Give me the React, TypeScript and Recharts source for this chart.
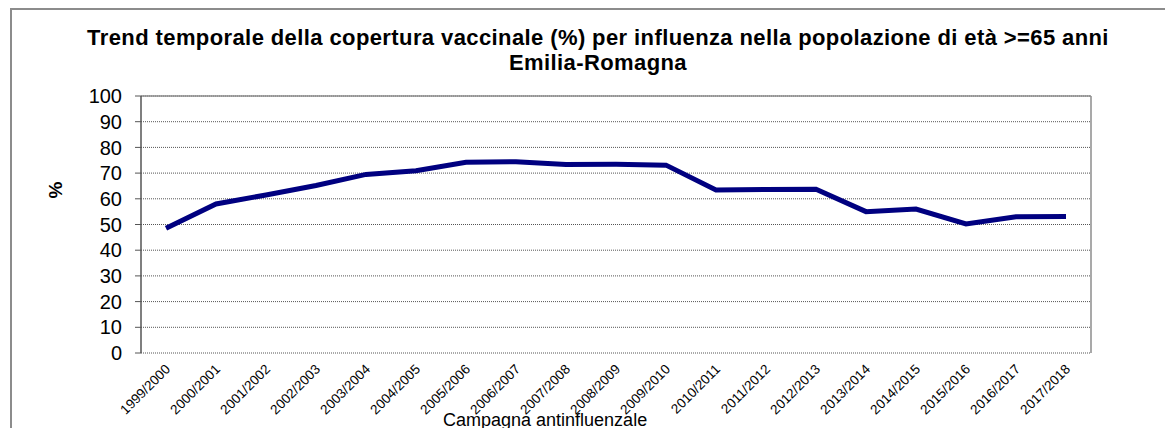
import { CartesianGrid, Line, LineChart, ReferenceLine, XAxis, YAxis } from "recharts"

const campagne = [
  "1999/2000", "2000/2001", "2001/2002", "2002/2003", "2003/2004", "2004/2005",
  "2005/2006", "2006/2007", "2007/2008", "2008/2009", "2009/2010", "2010/2011",
  "2011/2012", "2012/2013", "2013/2014", "2014/2015", "2015/2016", "2016/2017",
  "2017/2018",
]

// copertura vaccinale (%) >=65 anni
const copertura = [
  48.5, 58.0, 61.5, 65.2, 69.5, 70.9, 74.2, 74.4, 73.3, 73.4, 73.1, 63.4,
  63.6, 63.7, 55.0, 56.0, 50.2, 53.0, 53.1,
]

const yTicks = [0, 10, 20, 30, 40, 50, 60, 70, 80, 90, 100]

const titolo = "Trend temporale della copertura vaccinale (%) per influenza nella popolazione di età >=65 anni"
const sottotitolo = "Emilia-Romagna"
const titoloY = "%"
const titoloX = "Campagna antinfluenzale"

const FONT = "'Liberation Sans', Arial, sans-serif"

const chartData = campagne.map((c, i) => ({ campagna: c, copertura: copertura[i], idx: i + 0.5 }))
const edgeTicks = campagne.map((_, i) => i).concat([campagne.length])

function CampagnaTick({ x, y, payload }: any) {
  const tx = x + 5
  const ty = y + 17
  return (
    <text x={tx} y={ty} transform={`rotate(-45 ${tx} ${ty})`} textAnchor="end" fontSize={13.5} fontFamily={FONT} fill="#000">
      {payload.value}
    </text>
  )
}

export default function App() {
  return (
    <div style={{ position: "relative", width: 1173, height: 436, margin: -8, overflow: "hidden", background: "#fff", fontFamily: FONT }}>
      <div style={{ position: "absolute", left: 10, top: 8, width: 1200, height: 500, borderLeft: "2px solid #8c8c8c", borderTop: "2px solid #8c8c8c" }} />
      <div style={{ position: "absolute", left: 0, width: 1196, top: 25, textAlign: "center", fontWeight: "bold", fontSize: 22, lineHeight: "25px", letterSpacing: 0.4, color: "#000", whiteSpace: "nowrap" }}>
        <div>{titolo}</div>
        <div>{sottotitolo}</div>
      </div>
      <div style={{ position: "absolute", left: 56, top: 190, transform: "translate(-50%, -50%) rotate(-90deg)", fontWeight: "bold", fontSize: 19, color: "#000" }}>
        {titoloY}
      </div>
      <div style={{ position: "absolute", left: 443, top: 410, fontSize: 18, lineHeight: "20px", color: "#000", whiteSpace: "nowrap" }}>
        {titoloX}
      </div>
      <div style={{ position: "absolute", left: 0, top: 0 }}>
        <LineChart width={1173} height={436} data={chartData} margin={{ top: 96, right: 82, bottom: 23, left: 81 }}>
          <CartesianGrid vertical={false} stroke="#555" strokeDasharray="1 1" />
          <XAxis
            xAxisId="edge"
            dataKey="idx"
            type="number"
            domain={[0, campagne.length]}
            ticks={edgeTicks}
            interval={0}
            height={0}
            tickSize={5}
            tickFormatter={() => ""}
            axisLine={{ stroke: "#333", strokeWidth: 1.5 }}
            tickLine={{ stroke: "#333" }}
          />
          <XAxis
            xAxisId="cat"
            dataKey="campagna"
            type="category"
            padding={{ left: 25, right: 25 }}
            interval={0}
            height={60}
            tickSize={0}
            tickMargin={0}
            axisLine={false}
            tickLine={false}
            tick={<CampagnaTick />}
          />
          <YAxis
            domain={[0, 100]}
            ticks={yTicks}
            interval={0}
            width={60}
            tickSize={6}
            tickMargin={13}
            axisLine={{ stroke: "#555", strokeWidth: 1.5 }}
            tickLine={{ stroke: "#555" }}
            tick={{ fontSize: 20, fill: "#000", fontFamily: FONT }}
          />
          <ReferenceLine y={100} xAxisId="edge" stroke="#8c8c8c" strokeWidth={1.5} />
          <ReferenceLine x={campagne.length} xAxisId="edge" stroke="#8c8c8c" strokeWidth={1.5} />
          <Line
            xAxisId="cat"
            dataKey="copertura"
            stroke="#000080"
            strokeWidth={5}
            dot={false}
            activeDot={false}
            isAnimationActive={false}
          />
        </LineChart>
      </div>
    </div>
  )
}
